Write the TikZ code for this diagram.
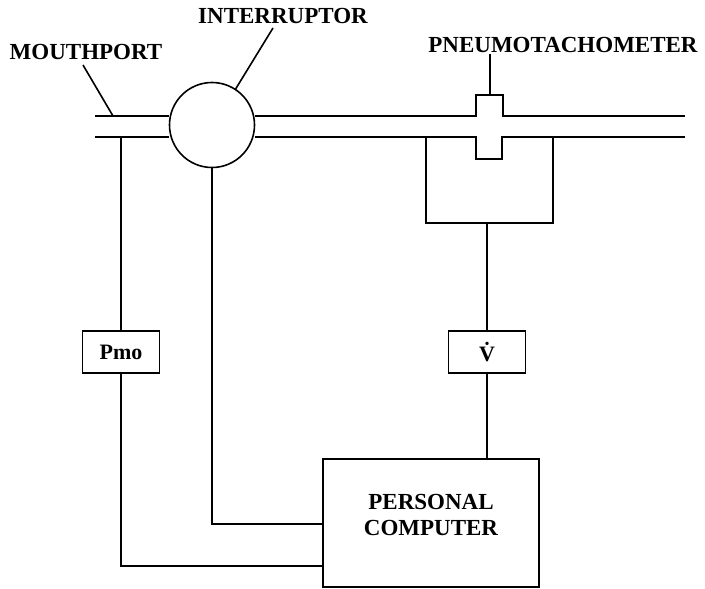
\documentclass[tikz,border=0pt]{standalone}
\usepackage{fontspec}
\setmainfont{Liberation Serif}
\usetikzlibrary{calc}
\tikzset{
	lbl/.style={font=\bfseries\fontsize{23}{26}\selectfont, inner sep=0pt},
	box/.style={draw, font=\bfseries\fontsize{22}{26}\selectfont, inner sep=0pt}
}
\begin{document}
\begin{tikzpicture}[x=1pt, y=-1pt, line width=1.6pt]
	\useasboundingbox (0, 0) rectangle (705, 589);
	% labels
	\node[lbl] (mouth) at (86, 52) {MOUTHPORT};
	\node[lbl] (intlbl) at (283, 16) {INTERRUPTOR};
	\node[lbl] (pneulbl) at (563, 45) {PNEUMOTACHOMETER};
	% interruptor and tube
	\node[draw, circle, minimum size=85pt, inner sep=0pt] (intr) at (212, 125) {};
	\coordinate (mouthend) at (113, 116);
	\coordinate (intrtip) at (235, 90);
	\coordinate (pneutop) at (490, 95);
	\draw (95, 116) -- (intr.west |- 0, 116);
	\draw (95, 137) -- (intr.west |- 0, 137);
	\draw (intr.east |- 0, 116) -- (476, 116) -- (476, 95) -- (503, 95) -- (503, 116) -- (685, 116);
	\draw (intr.east |- 0, 137) -- (476, 137) -- (476, 159) -- (502, 159) -- (502, 137) -- (685, 137);
	\draw (426, 137) -- (426, 223) -- (553, 223) -- (553, 137);
	\coordinate (rectbot) at (488, 223);
	% leaders
	\draw (83, 65) -- (mouthend);
	\draw (273, 28) -- (intrtip);
	\draw (pneutop) -- (pneutop |- pneulbl.south);
	% boxes
	\node[box, minimum width=77pt, minimum height=42pt] (pmo) at (121, 352) {Pmo};
	\node[box, minimum width=77pt, minimum height=42pt] (vdot) at (487, 352) {\.{V}};
	\node[box, minimum width=216pt, minimum height=128pt] (pc) at (431, 523) {};
	\node[lbl, align=center] (pctext) at ($(pc.center) + (0, -8)$) {PERSONAL\\COMPUTER};
	% wiring
	\draw (pmo.north) -- (pmo.north |- 0, 137);
	\draw (vdot.north) -- (vdot.north |- rectbot);
	\draw (vdot.south) -- (vdot.south |- pc.north);
	\draw (intr.south) -- (intr.south |- 0, 524) -- (pc.west |- 0, 524);
	\draw (pmo.south) -- (pmo.south |- 0, 566) -- (pc.west |- 0, 566);
\end{tikzpicture}
\end{document}
